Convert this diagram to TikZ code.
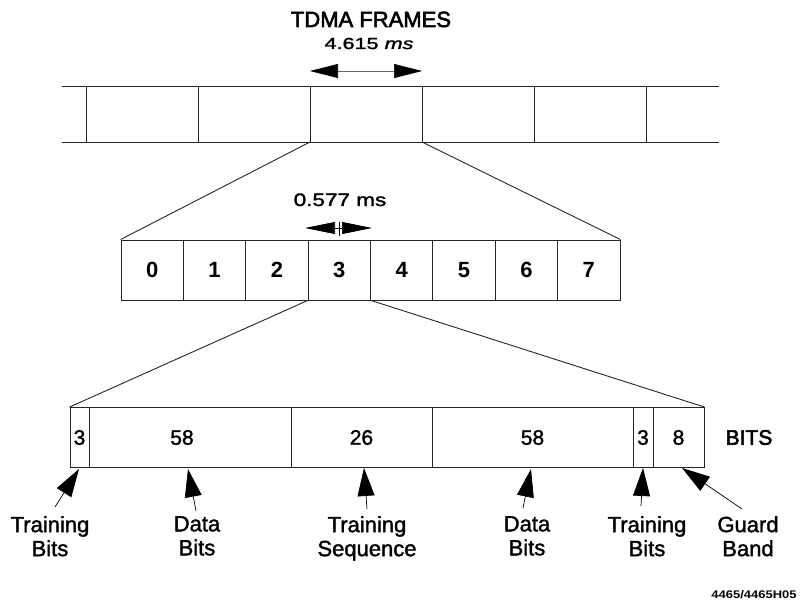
\documentclass[tikz,border=0pt]{standalone}
\usepackage{fontspec}
\setmainfont{Liberation Sans}
\newfontfamily\medf{Liberation Sans}[FakeBold=1.6]
\newfontfamily\heavyf{Liberation Sans}[FakeBold=2.6]
\usetikzlibrary{arrows.meta}
\begin{document}
\begin{tikzpicture}[x=1pt,y=-1pt,
  frame/.style={line width=0.9pt, draw=black!85},
  slot/.style={frame, rectangle, minimum width=62.375pt, minimum height=60pt, inner sep=0pt, font=\fontsize{22}{24}\selectfont\bfseries},
  field/.style={frame, rectangle, minimum height=60pt, inner sep=0pt, font=\fontsize{21}{24}\medf},
  lbl/.style={font=\fontsize{22}{24}\medf, align=center, inner sep=0pt, anchor=north},
  pointer/.style={-{Triangle[length=28pt,width=17pt]}, line width=0.7pt},
  span/.style={{Triangle[length=28pt,width=14pt,color=black]}-{Triangle[length=28pt,width=14pt,color=black]}, line width=0.6pt, draw=black!60}
]
\useasboundingbox (0,0) rectangle (801,604);

% titles
\node[font=\fontsize{22}{24}\heavyf, anchor=base, inner sep=0pt] (title) at (371,27) {TDMA FRAMES};
\node[font=\fontsize{16}{18}\medf, anchor=base, inner sep=0pt] (tlen) at (369,49) {\scalebox{1.35}[1]{4.615 \itshape ms}};

% top frame
\coordinate (tl) at (62,86);  \coordinate (tr) at (719,86);
\coordinate (bl) at (62,142); \coordinate (br) at (719,142);
\draw[frame] (tl) -- (tr) (bl) -- (br);
\foreach \x/\n in {86/a,198/b,310/c,422/d,534/e,646/f}{
  \coordinate (ft\n) at (\x,86);
  \coordinate (fb\n) at (\x,142);
  \draw[frame] (ft\n) -- (fb\n);
}
\coordinate (spanL) at (310,71); \coordinate (spanR) at (422,71);
\draw[span] (spanL) -- (spanR);

% middle frame
\foreach \i in {0,...,7}{
  \node[slot] (s\i) at ({121+62.375*(\i+0.5)},270) {\i};
}
\node[font=\fontsize{18}{20}\medf, anchor=base, inner sep=0pt] (slen) at (340,206) {\scalebox{1.25}[1]{0.577 ms}};
\coordinate (mL) at (305,228); \coordinate (mR) at (372,228);
\coordinate (mT) at (339,222); \coordinate (mB) at (339,236);
\draw[{Triangle[length=30pt,width=12pt]}-{Triangle[length=30pt,width=12pt]}, line width=0.7pt] (mL) -- (mR);
\draw[line width=0.8pt] (mT) -- (mB);

\draw[frame] (fbc) -- (s0.north west);
\draw[frame] (fbd) -- (s7.north east);

% bottom frame
\node[field, minimum width=19pt]  (f1) at (79.5,437.5) {3};
\node[field, minimum width=202pt] (f2) at (190,437.5) {};
\node[font=\fontsize{21}{24}\medf, inner sep=0pt] (f2t) at (182,437.5) {58};
\node[field, minimum width=141pt] (f3) at (361.5,437.5) {26};
\node[field, minimum width=201pt] (f4) at (532.5,437.5) {58};
\node[field, minimum width=20pt]  (f5) at (643,437.5) {3};
\node[field, minimum width=51pt]  (f6) at (678.5,437.5) {8};
\node[font=\fontsize{21}{24}\heavyf, inner sep=0pt] (bits) at (749,437.5) {BITS};

\draw[frame] (s3.south west) -- (f1.north west);
\draw[frame] (s3.south east) -- (f6.north east);

% labels and pointers
\node[lbl] (l1) at (50,516)  {Training\\Bits};
\node[lbl] (l2) at (197,516) {Data\\Bits};
\node[lbl] (l3) at (367,516) {Training\\Sequence};
\node[lbl] (l4) at (527,516) {Data\\Bits};
\node[lbl] (l5) at (647,516) {Training\\Bits};
\node[lbl] (l6) at (748,516) {Guard\\Band};

\coordinate (a1) at (55,507);  \coordinate (p1) at (79,469);
\coordinate (a2) at (196,511); \coordinate (p2) at (188,469);
\coordinate (a3) at (367,509); \coordinate (p3) at (364,468);
\coordinate (a4) at (523,508); \coordinate (p4) at (531,469);
\coordinate (a5) at (641,506); \coordinate (p5) at (643,468);
\coordinate (a6) at (742,509); \coordinate (p6) at (682,468);
\foreach \k in {1,...,6}{ \draw[pointer] (a\k) -- (p\k); }

\node[font=\fontsize{11}{12}\selectfont\bfseries, inner sep=0pt, anchor=base] (fig) at (754,598) {\scalebox{1.18}[1]{4465/4465H05}};
\end{tikzpicture}
\end{document}
